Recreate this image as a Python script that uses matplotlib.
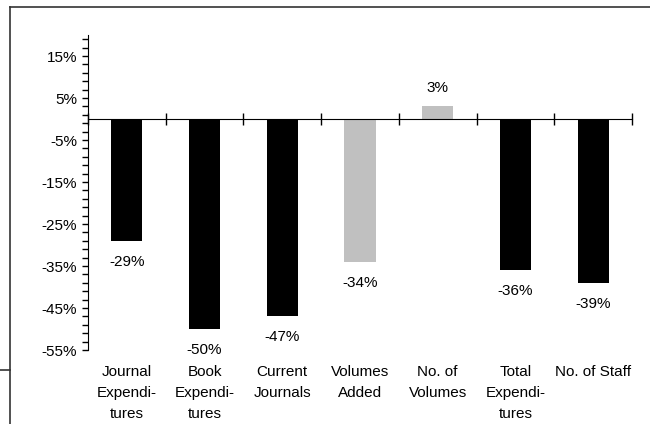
import numpy as np
import matplotlib
matplotlib.use("Agg")
import matplotlib.pyplot as plt
from matplotlib.lines import Line2D

plt.rcParams['font.family'] = ['Liberation Sans', 'DejaVu Sans']

categories = ["Journal\nExpendi-\ntures", "Book\nExpendi-\ntures", "Current\nJournals",
              "Volumes\nAdded", "No. of\nVolumes", "Total\nExpendi-\ntures", "No. of Staff"]
values = [-29, -50, -47, -34, 3, -36, -39]
bar_colors = ["black", "black", "black", "#c0c0c0", "#c0c0c0", "black", "black"]
ytick_vals = [15, 5, -5, -15, -25, -35, -45, -55]

fig = plt.figure(figsize=(6.5, 4.24), dpi=100)
ax = fig.add_axes([88/650, 1-350/424, (632-88)/650, (350-35)/424])

x = np.arange(len(values))
ax.bar(x, values, width=0.4, color=bar_colors)

ax.set_xlim(-0.5, len(values) - 0.5)
ax.set_ylim(-55, 20)

# y axis
ax.set_yticks(ytick_vals)
ax.set_yticklabels([f"{v}%" for v in ytick_vals], fontsize=11)
ax.set_yticks(np.arange(-55, 20, 2), minor=True)
ax.tick_params(axis='y', which='both', direction='out', length=4, width=1, pad=4)

# x axis at zero with ticks at category boundaries
ax.spines['bottom'].set_position(('data', 0))
ax.spines['top'].set_visible(False)
ax.spines['right'].set_visible(False)
ax.set_xticks(np.arange(-0.5, len(values), 1))
ax.set_xticklabels([])
ax.tick_params(axis='x', which='both', direction='inout', length=9, width=1)

for xi, v, lab in zip(x, values, categories):
    if v < 0:
        ax.annotate(f"{v}%", (xi, v), xytext=(0, -10), textcoords='offset points',
                    ha='center', va='top', fontsize=11)
    else:
        ax.annotate(f"{v}%", (xi, v), xytext=(0, 8), textcoords='offset points',
                    ha='center', va='bottom', fontsize=11)
    ax.annotate(lab, (xi, -55), xytext=(0, -11), textcoords='offset points',
                ha='center', va='top', fontsize=11, linespacing=1.62)

# outer frame pieces
fig.add_artist(Line2D([10/650, 1], [1-7/424, 1-7/424], color='#333333', lw=1.2))
fig.add_artist(Line2D([10/650, 10/650], [0, 1-7/424], color='#333333', lw=1.2))
fig.add_artist(Line2D([0, 10/650], [1-370/424, 1-370/424], color='#333333', lw=1.2))

fig.savefig("out.png", dpi=100)
